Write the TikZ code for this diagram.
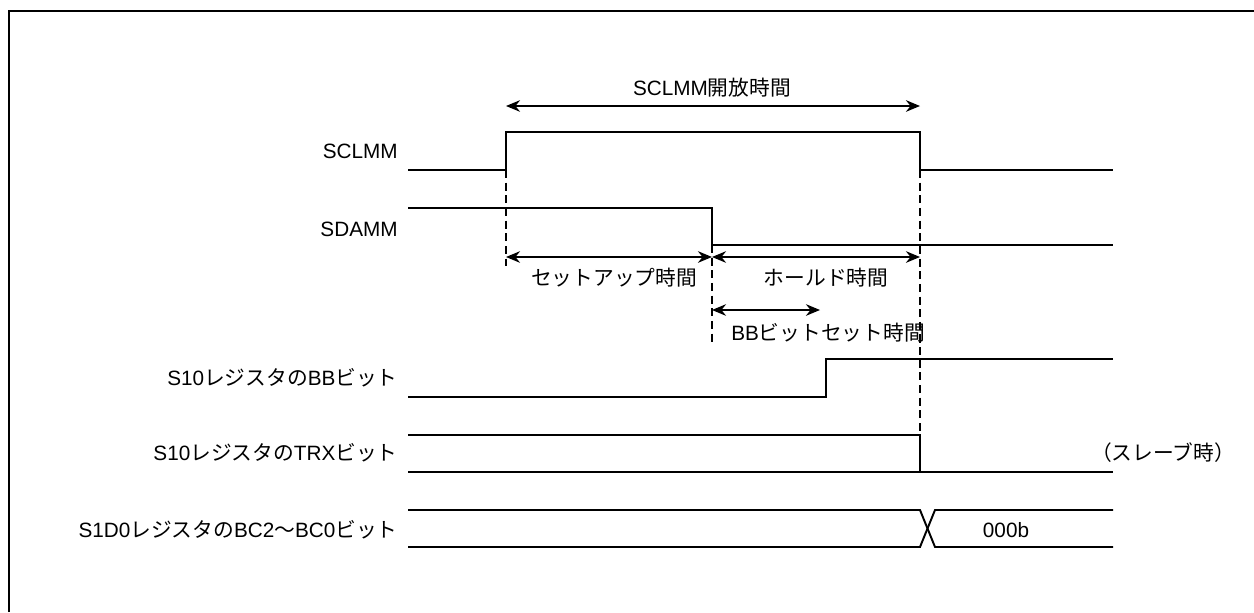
\documentclass[tikz,border=0pt]{standalone}
\usepackage{fontspec}
\setmainfont{Liberation Sans}
\newfontfamily\jp{Noto Sans CJK JP}
\usetikzlibrary{arrows.meta}

\begin{document}
\begin{tikzpicture}[x=0.02cm, y=-0.02cm,
    wave/.style={line width=1.1pt, line cap=butt, line join=miter},
    guide/.style={line width=1.4pt, dash pattern=on 4.6pt off 2.6pt},
    span/.style={line width=0.85pt, {Stealth[length=8pt,width=6.6pt]}-{Stealth[length=8pt,width=6.6pt]}},
    txt/.style={font=\fontsize{11.8}{14}\selectfont, inner sep=0pt},
    signame/.style={txt, anchor=east}]
  % The picture is measured in pixels of the reference, y pointing down.
  \useasboundingbox (0,0) rectangle (1254,612);
  \draw[line width=1.2pt] (9,612) -- (9,11) -- (1254,11);

  % edges in time
  \coordinate (sclrise) at (506,170);
  \coordinate (sdafall) at (712,245);
  \coordinate (sclfall) at (920,170);
  \coordinate (setbot) at (506,266);
  \coordinate (holdbot) at (712,344);
  \coordinate (trxtop) at (920,435);

  \node[signame] (scl) at (398,151) {SCLMM};
  \node[signame] (sda) at (398,229) {SDAMM};
  \node[signame] (bb) at (398,378) {S10{\jp レジスタの}BB{\jp ビット}};
  \node[signame] (trx) at (398,453) {S10{\jp レジスタの}TRX{\jp ビット}};
  \node[signame] (bc) at (398,530) {S1D0{\jp レジスタの}BC2{\jp 〜}BC0{\jp ビット}};

  \draw[wave] (408,170) -- (sclrise) -- (506,132) -- (920,132) -- (sclfall) -- (1113,170);
  \draw[wave] (408,208) -- (712,208) -- (sdafall) -- (1113,245);
  \draw[wave] (408,397) -- (826,397) -- (826,359) -- (1113,359);
  \draw[wave] (408,435) -- (trxtop) -- (920,472);
  \draw[wave] (408,472) -- (1113,472);
  \draw[wave] (408,510) -- (920,510) -- (935,547) -- (1113,547);
  \draw[wave] (408,547) -- (920,547) -- (935,510) -- (1113,510);

  \draw[guide] (sclrise) -- (setbot);
  \draw[guide] (sdafall) -- (holdbot);
  \draw[guide] (sclfall) -- (trxtop);

  \coordinate (opena) at (506,106);
  \coordinate (openb) at (920,106);
  \coordinate (seta) at (506,257);
  \coordinate (setb) at (712,257);
  \coordinate (holdb) at (920,257);
  \coordinate (bba) at (712,310);
  \coordinate (bbb) at (820,310);
  \draw[span] (opena) -- (openb);
  \draw[span] (seta) -- (setb);
  \draw[span] (setb) -- (holdb);
  \draw[span] (bba) -- (bbb);

  \node[txt] (open) at (712,88) {SCLMM{\jp 開放時間}};
  \node[txt] (setup) at (614,278) {\jp セットアップ時間};
  \node[txt] (hold) at (826,278) {\jp ホールド時間};
  \node[txt] (bbset) at (828,333) {BB{\jp ビットセット時間}};
  \node[txt] (slave) at (1163,453) {\jp （スレーブ時）};
  \node[txt] (val) at (1006,530) {000b};
\end{tikzpicture}
\end{document}
